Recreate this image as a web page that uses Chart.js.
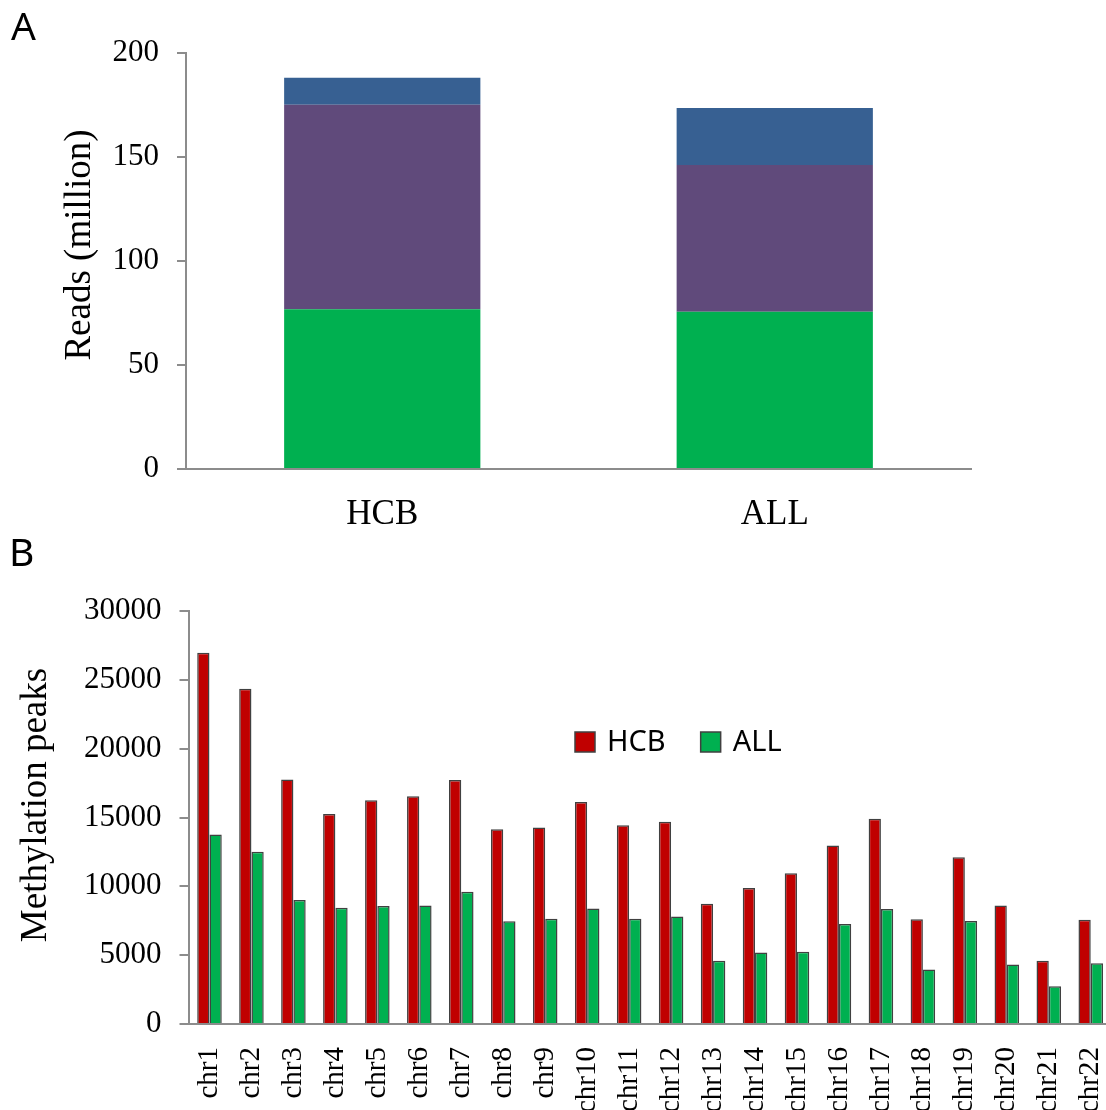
<!DOCTYPE html>
<html>
<head>
<meta charset="utf-8">
<script src="https://cdn.jsdelivr.net/npm/chart.js@4.4.0/dist/chart.umd.min.js"></script>
<style>
  html, body { margin: 0; padding: 0; background: #fff; overflow: hidden; width: 1106px; height: 1110px; }
  .panel { position: absolute; font-family: "Noto Sans"; font-size: 39px; line-height: 1; color: #000; }
  #wrapA { position: absolute; left: 0; top: 0; width: 1106px; height: 535px; }
  #wrapB { position: absolute; left: 0; top: 535px; width: 1141px; height: 575px; }
</style>
</head>
<body>
<div id="wrapA"><canvas id="chartA" width="1106" height="535" style="width:1106px;height:535px"></canvas></div>
<div id="wrapB"><canvas id="chartB" width="1141" height="575" style="width:1141px;height:575px"></canvas></div>
<div class="panel" style="left:11px;top:5px">A</div>
<div class="panel" style="left:9px;top:531px">B</div>
<script>
// panel A - reads (million), stacked
var samples = ['HCB', 'ALL'];
var readsLower = [76.8, 75.6];
var readsMiddle = [98.3, 70.5];
var readsUpper = [13.0, 27.5];

// panel B - methylation peaks per chromosome
var chromosomes = ['chr1', 'chr2', 'chr3', 'chr4', 'chr5', 'chr6', 'chr7', 'chr8', 'chr9', 'chr10', 'chr11',
  'chr12', 'chr13', 'chr14', 'chr15', 'chr16', 'chr17', 'chr18', 'chr19', 'chr20', 'chr21', 'chr22'];
var hcbPeaks = [26970, 24350, 17760, 15250, 16250, 16540, 17730, 14140, 14270, 16120, 14430,
  14700, 8730, 9870, 10950, 12960, 14910, 7600, 12110, 8600, 4590, 7570];
var allPeaks = [13770, 12510, 9000, 8440, 8580, 8600, 9600, 7470, 7650, 8390, 7650,
  7810, 4590, 5200, 5250, 7260, 8360, 3960, 7490, 4330, 2740, 4410];

var serif = 'Liberation Serif';
var axisGray = '#8c8c8c';

// legend drawn inside the plot, like the original
var insideLegend = {
  id: 'insideLegend',
  afterDraw: function(chart, args, opts) {
    if (!opts.show) return;
    var ctx = chart.ctx;
    var x = opts.x;
    ctx.save();
    ctx.font = opts.fontSize + 'px "Noto Sans"';
    ctx.textBaseline = 'alphabetic';
    chart.data.datasets.forEach(function(ds) {
      ctx.fillStyle = ds.backgroundColor;
      ctx.fillRect(x, opts.y, opts.box, opts.box);
      ctx.strokeStyle = ds.borderColor;
      ctx.lineWidth = 1.5;
      ctx.strokeRect(x, opts.y, opts.box, opts.box);
      x += opts.box + 12;
      ctx.fillStyle = '#000';
      ctx.fillText(ds.label, x, opts.y + opts.box - 1);
      x += ctx.measureText(ds.label).width + 35;
    });
    ctx.restore();
  }
};

// vertical axis title, centred where the original puts it
var sideTitle = {
  id: 'sideTitle',
  afterDraw: function(chart, args, opts) {
    if (!opts.text) return;
    var ctx = chart.ctx;
    ctx.save();
    ctx.translate(opts.x, opts.y);
    ctx.rotate(-Math.PI / 2);
    ctx.font = opts.size + 'px "' + serif + '"';
    ctx.fillStyle = '#000';
    ctx.textAlign = 'center';
    ctx.textBaseline = 'middle';
    ctx.fillText(opts.text, 0, 0);
    ctx.restore();
  }
};

new Chart(document.getElementById('chartA'), {
  type: 'bar',
  data: {
    labels: samples,
    datasets: [
      { label: 'Lower', data: readsLower, backgroundColor: '#00B050' },
      { label: 'Middle', data: readsMiddle, backgroundColor: '#604A7B' },
      { label: 'Upper', data: readsUpper, backgroundColor: '#376092' }
    ]
  },
  options: {
    responsive: false,
    animation: false,
    layout: { padding: { left: 0, top: 53, right: 135, bottom: 0 } },
    plugins: {
      legend: { display: false },
      tooltip: { enabled: false },
      sideTitle: { text: 'Reads (million)', x: 80, y: 245, size: 37 }
    },
    datasets: { bar: { barPercentage: 0.5, categoryPercentage: 1 } },
    scales: {
      x: {
        stacked: true,
        grid: { display: false },
        border: { color: axisGray, width: 2 },
        ticks: { color: '#000', padding: 17, font: { family: serif, size: 35 } },
        afterFit: function(s) { s.height = 66; }
      },
      y: {
        stacked: true,
        min: 0, max: 200,
        ticks: { stepSize: 50, color: '#000', padding: 18, font: { family: serif, size: 31 } },
        grid: { drawOnChartArea: false, drawTicks: true, tickLength: 9, color: axisGray, lineWidth: 2 },
        border: { color: axisGray, width: 2 },
        afterFit: function(s) { s.width = 186; }
      }
    }
  },
  plugins: [sideTitle]
});

new Chart(document.getElementById('chartB'), {
  type: 'bar',
  data: {
    labels: chromosomes,
    datasets: [
      { label: 'HCB', data: hcbPeaks, backgroundColor: '#C00000', borderColor: '#404040', borderWidth: 1.5 },
      { label: 'ALL', data: allPeaks, backgroundColor: '#00B050', borderColor: '#404040', borderWidth: 1.5 }
    ]
  },
  options: {
    responsive: false,
    animation: false,
    layout: { padding: { left: 0, top: 76, right: 20, bottom: 0 } },
    plugins: {
      legend: { display: false },
      tooltip: { enabled: false },
      insideLegend: { show: true, x: 575, y: 197, box: 20, fontSize: 29 },
      sideTitle: { text: 'Methylation peaks', x: 36, y: 270, size: 37 }
    },
    datasets: { bar: { barPercentage: 1, categoryPercentage: 0.585 } },
    scales: {
      x: {
        grid: { display: false },
        border: { color: axisGray, width: 2 },
        ticks: { color: '#000', padding: 15, minRotation: 90, maxRotation: 90, autoSkip: false, font: { family: serif, size: 29 } },
        afterFit: function(s) { s.height = 86; }
      },
      y: {
        min: 0, max: 30000,
        ticks: { stepSize: 5000, color: '#000', padding: 18, font: { family: serif, size: 31 },
          callback: function(v) { return String(v); } },
        grid: { drawOnChartArea: false, drawTicks: true, tickLength: 9, color: axisGray, lineWidth: 2 },
        border: { color: axisGray, width: 2 },
        afterFit: function(s) { s.width = 188.5; }
      }
    }
  },
  plugins: [insideLegend, sideTitle]
});
</script>
</body>
</html>
